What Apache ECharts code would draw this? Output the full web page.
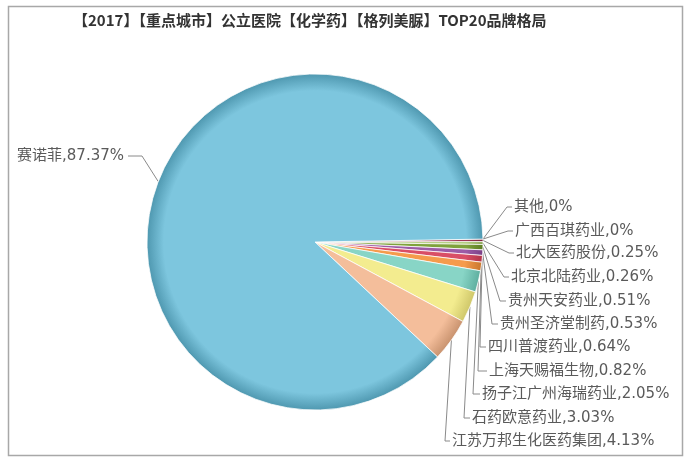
<!DOCTYPE html>
<html>
<head>
<meta charset="utf-8">
<script src="https://cdn.jsdelivr.net/npm/echarts@6/dist/echarts.min.js"></script>
<style>html,body{margin:0;padding:0;background:#fff;}#c{width:695px;height:463px;}</style>
</head>
<body>
<div id="c"></div>
<script>
const titleText = '【2017】【重点城市】公立医院【化学药】【格列美脲】TOP20品牌格局';
const categories = ['其他','广西百琪药业','北大医药股份','北京北陆药业','贵州天安药业','贵州圣济堂制药','四川普渡药业','上海天赐福生物','扬子江广州海瑞药业','石药欧意药业','江苏万邦生化医药集团','赛诺菲'];
const values = [0, 0, 0.25, 0.26, 0.51, 0.53, 0.64, 0.82, 2.05, 3.03, 4.13, 87.37];

const baseColors = ['#8B1A3A','#B83A3A','#9E3553','#A4C466','#7FA23C','#9C5BA6','#D94E66','#F59B4C','#88D5C6','#F3EC8F','#F4BE9B','#7DC6DE'];
const edgeColors = ['#6B1029','#8A2828','#7A223C','#7F9C45','#5E7D25','#7A3F85','#B23448','#C9772E','#5FAFA0','#CFC76A','#C9936F','#4F98B0'];

const CX = 315, CY = 242, R = 168;
// label anchor [textX, textY, elbowX]
const labelSpots = [[514,207,507],[515,231,508],[516,253,509],[511,277,504],[508,301,500],[500,324,492],[488,347,480],[489,371,478],[482,394,473],[472,418,464],[452,441,445],[124,156,142]];

function grad(i){
  return {type:'radial', x:CX, y:CY, r:R, global:true,
    colorStops:[{offset:0,color:baseColors[i]},{offset:0.9,color:baseColors[i]},{offset:1,color:edgeColors[i]}]};
}

const chart = echarts.init(document.getElementById('c'));
chart.setOption({
  animation:false,
  backgroundColor:'#fff',
  title:{text:titleText, left:68, top:8, textStyle:{fontSize:15, fontWeight:'bold', color:'#333', fontFamily:'"Noto Sans CJK SC"'}},
  graphic:[{type:'rect', shape:{x:8.5,y:6.5,width:674,height:449}, style:{fill:null, stroke:'#A8A8A8', lineWidth:1.5}, silent:true}],
  series:[{
    type:'pie',
    center:[CX,CY],
    radius:R,
    startAngle:1,
    clockwise:true,
    avoidLabelOverlap:false,
    emphasis:{disabled:true},
    data: categories.map((n,i)=>({name:n, value:values[i], itemStyle:{color:grad(i)}})),
    itemStyle:{borderColor:'rgba(255,255,255,0.75)', borderWidth:1},
    label:{show:true, position:'outer', alignTo:'none', formatter:'{b},{c}%', color:'#5a5a5a', fontSize:15, fontFamily:'"DejaVu Sans", "Noto Sans CJK SC"'},
    labelLine:{show:true, length:10, length2:10, lineStyle:{color:'#8a8a8a', width:1}},
    labelLayout:function(p){
      const s = labelSpots[p.dataIndex];
      const isLeft = p.dataIndex === 11;
      const pts = p.labelLinePoints;
      return {
        x:s[0], y:s[1], align:isLeft?'right':'left', verticalAlign:'middle',
        labelLinePoints:[pts[0],[s[2],s[1]],[isLeft?s[0]+4:s[0]-2,s[1]]]
      };
    }
  }]
});
</script>
</body>
</html>
